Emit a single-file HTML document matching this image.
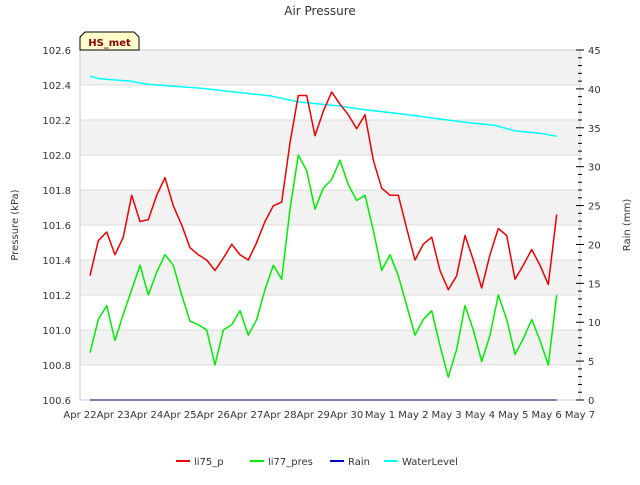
<!DOCTYPE html>
<html><head><meta charset="utf-8"><style>
body{margin:0;background:#fff;}
svg text{font-family:"DejaVu Sans","Liberation Sans",sans-serif;}
</style></head><body>
<svg id="chart" width="640" height="480" xmlns="http://www.w3.org/2000/svg">
<text x="320" y="15" text-anchor="middle" font-size="12" fill="#333">Air Pressure</text>
<g id="bands"></g>
<g id="axes"></g>
<g id="series"></g>
<text transform="translate(18,225) rotate(-90)" text-anchor="middle" font-size="10" fill="#333">Pressure (kPa)</text>
<text transform="translate(630,225) rotate(-90)" text-anchor="middle" font-size="10" fill="#333">Rain (mm)</text>
<g>
<polygon points="80,50 80,37 85,32 134,32 139,37 139,50" fill="#ffffcc" stroke="#000" stroke-width="1"/>
<text x="109.5" y="46" text-anchor="middle" font-size="10" font-weight="bold" fill="#8b0000">HS_met</text>
</g>
<g id="legend"></g>
</svg>
<script>
const xTickLabels=["Apr 22","Apr 23","Apr 24","Apr 25","Apr 26","Apr 27","Apr 28","Apr 29","Apr 30","May 1","May 2","May 3","May 4","May 5","May 6","May 7"];
const yTicks=[100.6,100.8,101.0,101.2,101.4,101.6,101.8,102.0,102.2,102.4,102.6];
const y2Ticks=[0,5,10,15,20,25,30,35,40,45];
const tStart=0.3, tStep=0.25;
const li75=[101.31,101.51,101.56,101.43,101.53,101.77,101.62,101.63,101.77,101.87,101.71,101.60,101.47,101.43,101.40,101.34,101.41,101.49,101.43,101.40,101.50,101.62,101.71,101.73,102.07,102.34,102.34,102.11,102.25,102.36,102.29,102.23,102.15,102.23,101.97,101.81,101.77,101.77,101.58,101.40,101.49,101.53,101.34,101.23,101.31,101.54,101.40,101.24,101.43,101.58,101.54,101.29,101.37,101.46,101.37,101.26,101.66];
const li77=[100.87,101.06,101.14,100.94,101.09,101.23,101.37,101.20,101.33,101.43,101.37,101.20,101.05,101.03,101.00,100.80,101.00,101.03,101.11,100.97,101.06,101.23,101.37,101.29,101.69,102.00,101.91,101.69,101.81,101.86,101.97,101.83,101.74,101.77,101.57,101.34,101.43,101.31,101.14,100.97,101.06,101.11,100.91,100.73,100.89,101.14,101.00,100.82,100.97,101.20,101.06,100.86,100.95,101.06,100.94,100.80,101.20];
const rainT=[0.3,14.3];
const rainV=[0,0];
const wlT=[0.3,0.6,1.5,2.0,3.6,4.65,5.7,6.6,7.8,8.4,9.6,10.65,11.55,12.45,13.05,13.8,14.3];
const wlV=[41.6,41.3,41.0,40.6,40.1,39.6,39.1,38.3,37.8,37.4,36.8,36.2,35.7,35.3,34.6,34.3,33.9];

const X0=80,X1=580,Y0=400,Y1=50;
const xs=t=>X0+(X1-X0)*t/15;
const ys=p=>Y0-(p-100.6)/2.0*(Y0-Y1);
const y2s=v=>Y0-v/45*(Y0-Y1);
const NS="http://www.w3.org/2000/svg";
function mk(tag,attrs,parent){const e=document.createElementNS(NS,tag);for(const k in attrs)e.setAttribute(k,attrs[k]);parent.appendChild(e);return e;}
const bands=document.getElementById('bands'),axes=document.getElementById('axes'),series=document.getElementById('series'),legend=document.getElementById('legend');
mk('rect',{x:X0,y:Y1,width:X1-X0,height:Y0-Y1,fill:'#fff'},bands);
for(let i=0;i<yTicks.length-1;i++){
  if(i%2===1){const r=mk('rect',{x:X0,y:ys(yTicks[i+1]),width:X1-X0,height:ys(yTicks[i])-ys(yTicks[i+1]),fill:'#f2f2f2'},bands);
  
  }
}
yTicks.forEach(v=>{mk('line',{x1:X0,x2:X1,y1:ys(v),y2:ys(v),stroke:'#dcdcdc','stroke-width':1},bands);});
mk('rect',{x:X0,y:Y1,width:X1-X0,height:Y0-Y1,fill:'none',stroke:'#ccc'},axes);
yTicks.forEach(v=>{const t=mk('text',{x:X0-9,y:ys(v)+4,'text-anchor':'end','font-size':10,fill:'#333'},axes);t.textContent=v.toFixed(1);

});
xTickLabels.forEach((s,i)=>{const t=mk('text',{x:xs(i),y:Y0+18,'text-anchor':'middle','font-size':10,fill:'#333'},axes);t.textContent=s;

});
for(let v=0;v<=45;v++){const big=v%5===0;mk('line',{x1:X1-(big?4:2),x2:X1+(big?4:2),y1:y2s(v),y2:y2s(v),stroke:'#000','stroke-width':1},axes);}
y2Ticks.forEach(v=>{const t=mk('text',{x:X1+8,y:y2s(v)+4,'font-size':10,fill:'#333'},axes);t.textContent=v;

});
function path(pts,color,name,w){const d=pts.map((p,i)=>(i?'L':'M')+p[0].toFixed(1)+','+p[1].toFixed(1)).join('');
const e=mk('path',{d:d,fill:'none',stroke:color,'stroke-width':w,'stroke-linejoin':'round'},series);

}
path(wlT.map((t,i)=>[xs(t),y2s(wlV[i])]),'#00ffff','waterlevel-line',1.5);
path(rainT.map((t,i)=>[xs(t),y2s(rainV[i])]),'#000066','rain-line',1);
path(li77.map((v,i)=>[xs(tStart+i*tStep),ys(v)]),'#00ee00','li77-pres-line',1.5);
path(li75.map((v,i)=>[xs(tStart+i*tStep),ys(v)]),'#ee0000','li75-p-line',1.5);
const leg=[["li75_p","#ee0000",176],["li77_pres","#00ee00",250],["Rain","#0000cc",330],["WaterLevel","#00ffff",384]];
leg.forEach(l=>{const g=mk('g',{},legend);


mk('line',{x1:l[2],x2:l[2]+14,y1:461,y2:461,stroke:l[1],'stroke-width':2},g);
const t=mk('text',{x:l[2]+18,y:465,'font-size':10,fill:'#333'},g);t.textContent=l[0];});
</script>
</body></html>
